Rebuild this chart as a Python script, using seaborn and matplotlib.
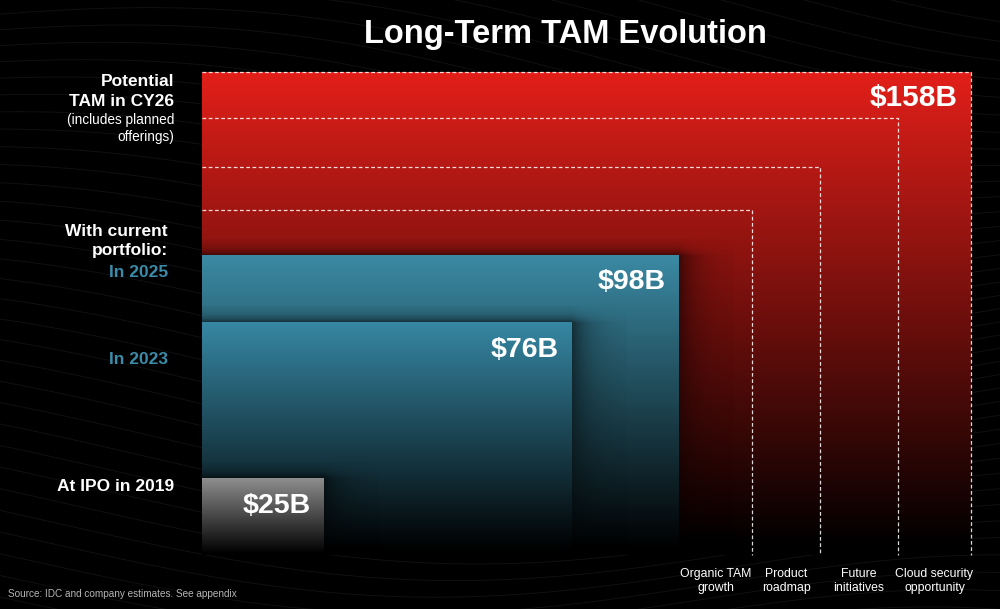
import numpy as np
import pandas as pd
import matplotlib
matplotlib.use("Agg")
import matplotlib.pyplot as plt
import seaborn as sns
from matplotlib.colors import to_rgb

# ---------------- data ----------------
tam_names = ["At IPO in 2019", "In 2023", "In 2025", "Potential TAM in CY26"]
tam_values = [25, 76, 98, 158]                       # $B
tam_value_text = ["$25B", "$76B", "$98B", "$158B"]
driver_labels = ["Organic TAM\ngrowth", "Product\nroadmap",
                 "Future\ninitiatives", "Cloud security\nopportunity"]
driver_levels = [113, 127, 143, 158]                 # cumulative $B after each driver (estimated)
title_text = "Long-Term TAM Evolution"
source_text = "Source: IDC and company estimates. See appendix"

# ---------------- style ----------------
sns.set_theme(style="dark", rc={"axes.facecolor": "black", "figure.facecolor": "black"})
plt.rcParams["font.family"] = ["Liberation Sans", "DejaVu Sans"]

W, H = 1000, 609
fig = plt.figure(figsize=(W / 100, H / 100), dpi=100)
ax = fig.add_axes([0, 0, 1, 1])
ax.set_facecolor("black")

# pixel layout of the plotting frame
X0, X1, Y0, Y1 = 202, 971, 555, 72
vmax = max(tam_values)
sx = (X1 - X0) / vmax
sy = (Y0 - Y1) / vmax
xlim = (-X0 / sx, (W - X0) / sx)
ylim = (-(H - Y0) / sy, Y0 / sy)


def fx(px):
    return px / W


def fy(py):
    return 1 - py / H


# faint wavy background lines
xs = np.linspace(0, 1, 300)
for i in range(46):
    base = 1.15 - i * 0.03
    ys = base - 0.10 * xs + 0.06 * np.sin(2 * np.pi * (0.7 * xs + 0.015 * i)) * (1 + 0.5 * xs)
    ax.plot(xs, ys, transform=ax.transAxes, color="#a0a0a0", lw=0.7, alpha=0.1, zorder=0)


def gradient_box(v, top_hex, z):
    top = np.array(to_rgb(top_hex))
    n = 256
    t = np.linspace(1, 0, n)  # top -> bottom
    f = np.clip((t - 0.02) / 0.98, 0, 1)
    img = (top[None, :] * f[:, None])[:, None, :]
    ax.imshow(img, extent=(0, v, 0, v), aspect="auto", interpolation="bilinear", zorder=z)


def shadow(v, z):
    ext_x = 55 / sx
    ext_y = 16 / sy
    nx, ny = 200, 200
    gx = np.linspace(0, v + ext_x, nx)
    gy = np.linspace(v + ext_y, 0, ny)
    XX, YY = np.meshgrid(gx, gy)
    dx = np.clip((XX - v) * sx, 0, None)
    dy = np.clip((YY - v) * sy, 0, None)
    vert = np.clip(YY / v, 0, 1) ** 0.5
    a = 0.6 * np.exp(-dx / 18) * np.exp(-dy / 6) * vert
    rgba = np.zeros((ny, nx, 4))
    rgba[..., 3] = a
    ax.imshow(rgba, extent=(0, v + ext_x, 0, v + ext_y), aspect="auto",
              interpolation="bilinear", zorder=z)


box_colors = {158: "#e31f19", 98: "#3b8aa4", 76: "#3687a3", 25: "#8e8e8e"}

# outer (red) TAM box
gradient_box(tam_values[-1], box_colors[158], 1)

# dashed outlines for each growth driver level (seaborn line plots)
for lvl in driver_levels:
    df = pd.DataFrame({"x": [0, lvl, lvl], "y": [lvl, lvl, 0]})
    sns.lineplot(data=df, x="x", y="y", sort=False, estimator=None, ax=ax,
                 color="white", lw=0.9, alpha=0.85, zorder=2)
    ax.lines[-1].set_linestyle((0, (3, 2)))

# nested boxes, largest first
z = 3
for v in sorted(tam_values[:-1], reverse=True):
    shadow(v, z)
    gradient_box(v, box_colors[v], z + 1)
    z += 2

# value labels at top-right of each box
for v, txt in zip(tam_values, tam_value_text):
    fs = 21.5 if v == vmax else 20.5
    ax.annotate(txt, xy=(v, v), xytext=(-13 * 0.72, -34 * 0.72), textcoords="offset points",
                ha="right", va="baseline", color="white", fontsize=fs, fontweight="bold",
                zorder=20)

# driver labels under the chart, centred between consecutive levels
prev = [tam_values[-2]] + driver_levels[:-1]
for lo, hi, lab in zip(prev, driver_levels, driver_labels):
    ax.text((lo + hi) / 2, fy(568), lab, transform=ax.get_xaxis_transform(),
            ha="center", va="top", color="white", fontsize=8.8, linespacing=1.2, zorder=20)

ax.set_xlim(*xlim)
ax.set_ylim(*ylim)
ax.set_axis_off()

# title
fig.text(fx(565), fy(42.5), title_text, ha="center", va="baseline", color="white",
         fontsize=23.5, fontweight="bold")

# left-hand labels
teal = "#3a8caa"
left_lines = [
    ("Potential", 174, 86.5, "bold", "white", 12.5),
    ("TAM in CY26", 174, 106.5, "bold", "white", 12.5),
    ("(includes planned", 174, 124, "normal", "white", 9.8),
    ("offerings)", 174, 141, "normal", "white", 9.8),
    ("With current", 168, 235.5, "bold", "white", 12.5),
    ("portfolio:", 168, 255.5, "bold", "white", 12.5),
    ("In 2025", 168, 277, "bold", teal, 12.5),
    ("In 2023", 168, 364.5, "bold", teal, 12.5),
    ("At IPO in 2019", 174, 491, "bold", "white", 12.5),
]
for txt, x, y, wt, col, fs in left_lines:
    fig.text(fx(x), fy(y), txt, ha="right", va="baseline", color=col,
             fontsize=fs, fontweight=wt)

# source note
fig.text(fx(8), fy(597), source_text, ha="left", va="baseline", color="#b5b5b5", fontsize=7.2)

fig.savefig("out.png", dpi=100, facecolor="black")
